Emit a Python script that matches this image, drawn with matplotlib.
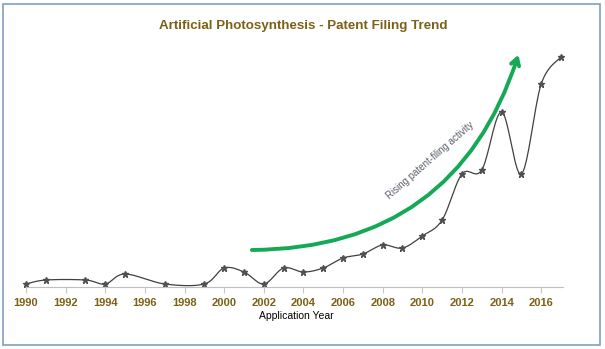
import numpy as np
import matplotlib
matplotlib.use("Agg")
import matplotlib.pyplot as plt
from matplotlib.patches import Rectangle

# patent filings per application year
years = [1990, 1991, 1993, 1994, 1995, 1997, 1999, 2000, 2001, 2002, 2003, 2004,
         2005, 2006, 2007, 2008, 2009, 2010, 2011, 2012, 2013, 2014, 2015, 2016, 2017]
filings = [1, 2, 2, 1, 3.5, 1, 1, 5, 4, 1, 5, 4,
           5, 7.5, 8.5, 10.75, 10, 13, 17, 28.5, 29.5, 44, 28.5, 51, 57.75]
tick_years = list(range(1990, 2017, 2))

title_col = "#7B6115"
plt.rcParams['font.family'] = ['Liberation Sans', 'DejaVu Sans']


def smooth(x, y, n=20):
    # Catmull-Rom style smoothing, like a spreadsheet "smoothed line"
    x = np.asarray(x, float)
    y = np.asarray(y, float)
    px = np.concatenate([[x[0]], x, [x[-1]]])
    py = np.concatenate([[y[0]], y, [y[-1]]])
    xs, ys = [], []
    for i in range(1, len(px) - 2):
        p0 = np.array([px[i - 1], py[i - 1]])
        p1 = np.array([px[i], py[i]])
        p2 = np.array([px[i + 1], py[i + 1]])
        p3 = np.array([px[i + 2], py[i + 2]])
        c1 = p1 + (p2 - p0) / 6
        c2 = p2 - (p3 - p1) / 6
        t = np.linspace(0, 1, n)[:, None]
        b = (1 - t) ** 3 * p1 + 3 * (1 - t) ** 2 * t * c1 + 3 * (1 - t) * t ** 2 * c2 + t ** 3 * p2
        xs.extend(b[:, 0])
        ys.extend(b[:, 1])
    return np.array(xs), np.array(ys)


fig = plt.figure(figsize=(6.05, 3.49), dpi=100)
ax = fig.add_axes([26 / 605, 1 - 288 / 349, (563 - 26) / 605, 240 / 349])

# spines first (set_position resets the tick setup)
for s in ["top", "right", "left"]:
    ax.spines[s].set_visible(False)
ax.spines["bottom"].set_color("#BFBFBF")
ax.spines["bottom"].set_position(("data", 0.3))

sx, sy = smooth(years, filings)
ax.plot(sx, sy, color="#404040", lw=0.9, clip_on=False)
ax.plot(years, filings, ls="none", marker="*", ms=5, color="#505050", clip_on=False)

# trend arrow
ax.annotate("", xy=(2014.85, 58.3), xytext=(2001.4, 9.5),
            arrowprops=dict(arrowstyle="->,head_length=0.5,head_width=0.3", color="#13A955",
                            lw=2.8, connectionstyle="arc3,rad=0.36", shrinkA=0, shrinkB=0),
            annotation_clip=False)
ax.text(2010.4, 31.8, "Rising patent-filing activity", rotation=41, fontsize=7,
        color="#5A5F6A", ha="center", va="center")

ax.set_xlim(1990, 2017.1)
ax.set_ylim(0, 60)
ax.set_xticks(tick_years)
ax.set_xticklabels([str(t) for t in tick_years], fontsize=8, fontweight="bold", color=title_col)
ax.tick_params(axis="x", length=4, color="#C8C8C8", pad=4)
ax.set_yticks([])

fig.text(296 / 605, 1 - 316 / 349, "Application Year", fontsize=7.5, ha="center", va="center")
fig.text(303 / 605, 1 - 26 / 349, "Artificial Photosynthesis - Patent Filing Trend",
         fontsize=9.6, fontweight="bold", color=title_col, ha="center", va="center")

fig.patches.append(Rectangle((3 / 605, 1 - 345 / 349), 597 / 605, 341 / 349, transform=fig.transFigure,
                             fill=False, edgecolor="#7FA0BF", lw=1.2))

fig.savefig("out.png", dpi=100)
